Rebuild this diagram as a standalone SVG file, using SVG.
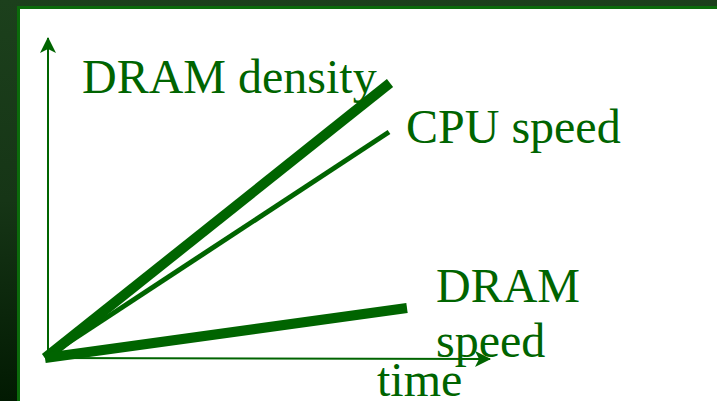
<svg xmlns="http://www.w3.org/2000/svg" width="717" height="401" viewBox="0 0 717 401">
  <defs>
    <linearGradient id="frame" x1="0" y1="0" x2="0" y2="1">
      <stop offset="0" stop-color="#1c401c"/>
      <stop offset="0.5" stop-color="#163516"/>
      <stop offset="1" stop-color="#021a02"/>
    </linearGradient>
    <marker id="arrow" viewBox="0 0 16 16" refX="15" refY="8" markerWidth="16" markerHeight="16" markerUnits="userSpaceOnUse" orient="auto">
      <path d="M0,0 L16,8 L0,16 L4,8 Z" fill="#006400"/>
    </marker>
    <style>
      .axis { stroke: #006400; stroke-width: 2; fill: none; }
      .trend { stroke: #006400; stroke-linecap: butt; fill: none; }
      .label { font-family: "Liberation Serif", "Times New Roman", serif; font-size: 48px; fill: #006400; }
    </style>
  </defs>

  <!-- frame -->
  <rect x="0" y="0" width="717" height="401" fill="url(#frame)"/>
  <rect x="17" y="6" width="700" height="395" fill="#0b6b0b"/>
  <rect x="20" y="9" width="697" height="392" fill="#ffffff"/>

  <!-- axes -->
  <g id="axes">
    <line class="axis" x1="48" y1="358" x2="48" y2="38" marker-end="url(#arrow)"/>
    <line class="axis" x1="45" y1="358" x2="490" y2="359" marker-end="url(#arrow)"/>
  </g>

  <!-- trend lines -->
  <g id="connectors">
    <line id="dram-density-line" class="trend" stroke-width="10" x1="45" y1="358" x2="390" y2="83"/>
    <line id="cpu-speed-line" class="trend" stroke-width="5" x1="45" y1="358" x2="389" y2="132"/>
    <line id="dram-speed-line" class="trend" stroke-width="10" x1="45" y1="358" x2="407" y2="308"/>
  </g>

  <g id="dram-density">
    <text class="label" x="82" y="93">DRAM density</text>
  </g>
  <g id="cpu-speed">
    <text class="label" x="406" y="143">CPU speed</text>
  </g>
  <g id="dram-speed">
    <text class="label" x="436" y="302">DRAM</text>
    <text class="label" x="436" y="357">speed</text>
  </g>
  <g id="time">
    <text class="label" x="377" y="396">time</text>
  </g>
</svg>
